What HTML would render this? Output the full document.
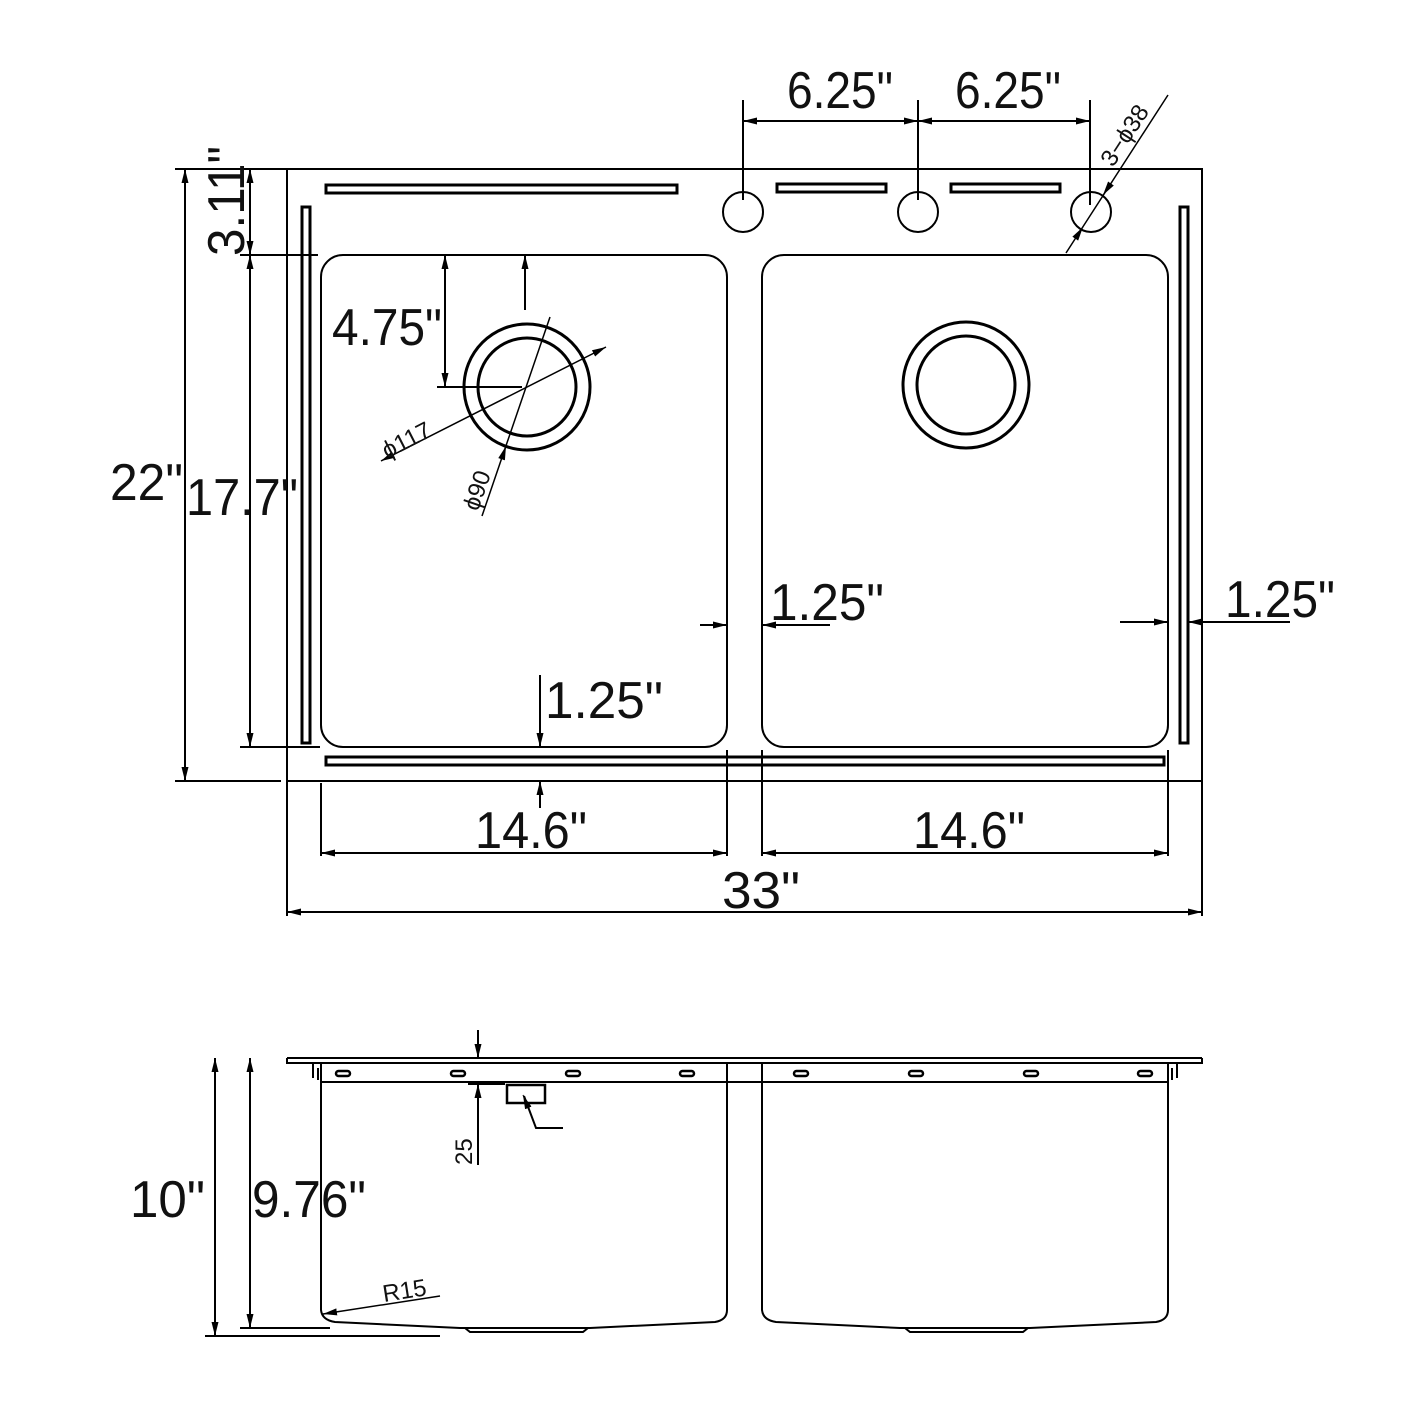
<!DOCTYPE html>
<html><head><meta charset="utf-8"><style>html,body{margin:0;padding:0;background:#fff}svg{display:block}
text{font-family:"Liberation Sans",sans-serif;fill:#111}</style></head><body>
<svg width="1421" height="1421" viewBox="0 0 1421 1421" xmlns="http://www.w3.org/2000/svg">
<defs><marker id="a" viewBox="0 0 10 10" refX="10" refY="5" markerWidth="14" markerHeight="14" markerUnits="userSpaceOnUse" orient="auto-start-reverse"><path d="M0,2.5L10,5L0,7.5z" fill="#000"/></marker></defs>
<g fill="none" stroke="#000" stroke-width="2">
<rect x="287" y="169" width="915" height="612"/>
<rect x="321" y="255" width="406" height="492" rx="22"/>
<rect x="762" y="255" width="406" height="492" rx="22"/>
<g stroke-width="3">
<rect x="326" y="185" width="351" height="8"/>
<rect x="777" y="184" width="109" height="8"/>
<rect x="951" y="184" width="109" height="8"/>
<rect x="302" y="207" width="8" height="536"/>
<rect x="1180" y="207" width="8" height="536"/>
<rect x="326" y="757" width="838" height="8"/>
<circle cx="527" cy="387" r="63"/><circle cx="527" cy="387" r="49"/>
<circle cx="966" cy="385" r="63"/><circle cx="966" cy="385" r="49"/>
</g>
<circle cx="743" cy="212" r="20"/><circle cx="918" cy="212" r="20"/><circle cx="1091" cy="212" r="20"/>
<line x1="175" y1="169" x2="287" y2="169"/><line x1="175" y1="781" x2="281" y2="781"/>
<line x1="185" y1="169" x2="185" y2="781" marker-start="url(#a)" marker-end="url(#a)"/>
<line x1="240" y1="255" x2="318" y2="255"/><line x1="240" y1="747" x2="320" y2="747"/>
<line x1="250" y1="169" x2="250" y2="255" marker-start="url(#a)" marker-end="url(#a)"/>
<line x1="250" y1="255" x2="250" y2="747" marker-start="url(#a)" marker-end="url(#a)"/>
<line x1="445" y1="255" x2="445" y2="387" marker-start="url(#a)" marker-end="url(#a)"/>
<line x1="437" y1="387" x2="522" y2="387"/>
<line x1="525" y1="310" x2="525" y2="255" marker-end="url(#a)"/>
<line x1="381" y1="461" x2="606" y2="347" marker-start="url(#a)" marker-end="url(#a)" stroke-width="1.5"/>
<line x1="482" y1="516" x2="550" y2="317" stroke-width="1.5"/>
<line x1="506" y1="446" x2="504" y2="452" marker-start="url(#a)" stroke-width="1"/>
<line x1="743" y1="100" x2="743" y2="200"/><line x1="918" y1="100" x2="918" y2="200"/><line x1="1090" y1="100" x2="1090" y2="205"/>
<line x1="743" y1="121" x2="918" y2="121" marker-start="url(#a)" marker-end="url(#a)"/>
<line x1="918" y1="121" x2="1090" y2="121" marker-start="url(#a)" marker-end="url(#a)"/>
<line x1="1168" y1="95" x2="1066" y2="253" stroke-width="1.5"/>
<line x1="1112" y1="182" x2="1103" y2="195" marker-end="url(#a)" stroke-width="1"/>
<line x1="1075" y1="239" x2="1083" y2="227" marker-end="url(#a)" stroke-width="1"/>
<line x1="700" y1="625" x2="727" y2="625" marker-end="url(#a)"/>
<line x1="830" y1="625" x2="762" y2="625" marker-end="url(#a)"/>
<line x1="1120" y1="622" x2="1168" y2="622" marker-end="url(#a)"/>
<line x1="1290" y1="622" x2="1188" y2="622" marker-end="url(#a)"/>
<line x1="540" y1="675" x2="540" y2="747" marker-end="url(#a)"/>
<line x1="540" y1="808" x2="540" y2="781" marker-end="url(#a)"/>
<line x1="321" y1="783" x2="321" y2="856"/><line x1="727" y1="750" x2="727" y2="856"/>
<line x1="762" y1="750" x2="762" y2="856"/><line x1="1168" y1="750" x2="1168" y2="856"/>
<line x1="321" y1="853" x2="727" y2="853" marker-start="url(#a)" marker-end="url(#a)"/>
<line x1="762" y1="853" x2="1168" y2="853" marker-start="url(#a)" marker-end="url(#a)"/>
<line x1="287" y1="781" x2="287" y2="916"/><line x1="1202" y1="781" x2="1202" y2="916"/>
<line x1="287" y1="912" x2="1202" y2="912" marker-start="url(#a)" marker-end="url(#a)"/>
<path d="M287,1058H1202M287,1058V1063H1202V1058" stroke-width="2"/>
<line x1="321" y1="1082" x2="1168" y2="1082"/>
<path d="M321,1063V1310Q322,1320 335,1322L460,1328H590L715,1322Q727,1320 727,1310V1063"/>
<path d="M762,1063V1310Q763,1320 776,1322L900,1328H1030L1156,1322Q1168,1320 1168,1310V1063"/>
<path d="M465,1328L470,1332H583L588,1328M905,1328L910,1332H1023L1028,1328"/>
<path d="M313,1063V1078M318,1068V1080M1172,1068V1080M1177,1063V1078"/>
<g stroke-width="2.5">
<rect x="336" y="1071" width="14" height="5" rx="2.5"/><rect x="451" y="1071" width="14" height="5" rx="2.5"/><rect x="566" y="1071" width="14" height="5" rx="2.5"/><rect x="680" y="1071" width="14" height="5" rx="2.5"/>
<rect x="794" y="1071" width="14" height="5" rx="2.5"/><rect x="909" y="1071" width="14" height="5" rx="2.5"/><rect x="1024" y="1071" width="14" height="5" rx="2.5"/><rect x="1138" y="1071" width="14" height="5" rx="2.5"/>
<rect x="507" y="1085" width="38" height="18"/>
</g>
<line x1="478" y1="1030" x2="478" y2="1058" marker-end="url(#a)"/>
<line x1="478" y1="1165" x2="478" y2="1084" marker-end="url(#a)"/>
<line x1="468" y1="1084" x2="505" y2="1084"/>
<path d="M563,1128H536L524,1096"/><line x1="530" y1="1112" x2="523" y2="1095" marker-end="url(#a)" stroke-width="1"/>
<line x1="205" y1="1336" x2="440" y2="1336"/><line x1="240" y1="1328" x2="330" y2="1328"/>
<line x1="215" y1="1058" x2="215" y2="1336" marker-start="url(#a)" marker-end="url(#a)"/>
<line x1="250" y1="1058" x2="250" y2="1328" marker-start="url(#a)" marker-end="url(#a)"/>
<line x1="440" y1="1296" x2="323" y2="1314" marker-end="url(#a)" stroke-width="1.5"/>
</g>
<g font-size="52" lengthAdjust="spacingAndGlyphs">
<text x="110" y="500" textLength="73" lengthAdjust="spacingAndGlyphs">22"</text>
<text x="186" y="515" textLength="112" lengthAdjust="spacingAndGlyphs">17.7"</text>
<text transform="translate(244,256) rotate(-90)" textLength="110" lengthAdjust="spacingAndGlyphs">3.11"</text>
<text x="332" y="345" textLength="110" lengthAdjust="spacingAndGlyphs">4.75"</text>
<text x="787" y="108" textLength="106" lengthAdjust="spacingAndGlyphs">6.25"</text>
<text x="955" y="108" textLength="106" lengthAdjust="spacingAndGlyphs">6.25"</text>
<text x="770" y="620" textLength="114" lengthAdjust="spacingAndGlyphs">1.25"</text>
<text x="1225" y="617" textLength="110" lengthAdjust="spacingAndGlyphs">1.25"</text>
<text x="545" y="718" textLength="118" lengthAdjust="spacingAndGlyphs">1.25"</text>
<text x="475" y="848" textLength="112" lengthAdjust="spacingAndGlyphs">14.6"</text>
<text x="913" y="848" textLength="112" lengthAdjust="spacingAndGlyphs">14.6"</text>
<text x="722" y="908" textLength="78" lengthAdjust="spacingAndGlyphs">33"</text>
<text x="130" y="1217" textLength="75" lengthAdjust="spacingAndGlyphs">10"</text>
<text x="252" y="1217" textLength="114" lengthAdjust="spacingAndGlyphs">9.76"</text>
</g>
<g font-size="24">
<text transform="translate(387,459) rotate(-27)">ϕ117</text>
<text transform="translate(478,512) rotate(-71)">ϕ90</text>
<text transform="translate(1113,168) rotate(-57)">3−ϕ38</text>
<text transform="translate(472,1165) rotate(-90)">25</text>
<text transform="translate(384,1302) rotate(-9)">R15</text>
</g>
</svg>
</body></html>
